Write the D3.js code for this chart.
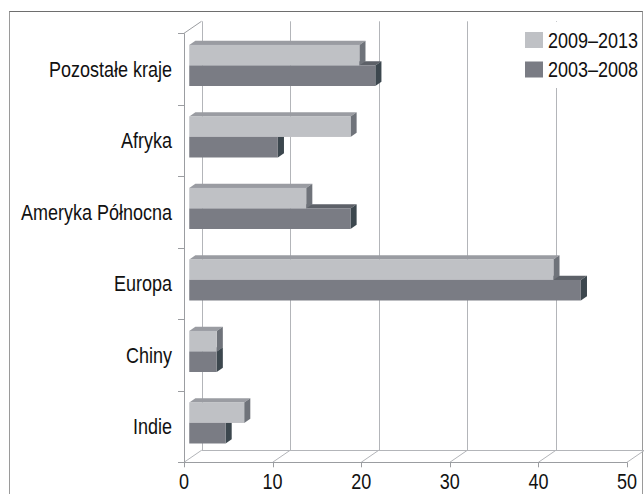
<!DOCTYPE html>
<html>
<head>
<meta charset="utf-8">
<script src="https://cdn.jsdelivr.net/npm/d3@7"></script>
<style>
  body { margin: 0; background: #fff; }
  text { font-family: "Liberation Sans", Arial, sans-serif; fill: #111; }
</style>
</head>
<body>
<svg class="chart"></svg>
<script>
// data
var categories = ["Pozostałe kraje", "Afryka", "Ameryka Północna", "Europa", "Chiny", "Indie"];
var seriesNames = ["2009–2013", "2003–2008"];
var values2009 = [19.2, 18.2, 13.2, 41.1, 3.1, 6.2];
var values2003 = [21.0, 10.0, 18.2, 44.2, 3.1, 4.1];
var xTicks = [0, 10, 20, 30, 40, 50];

var width = 644, height = 494;

var colours = {
  "2009–2013": {front: "#bfc1c5", top: "#9a9ca2", side: "#6f737a"},
  "2003–2008": {front: "#7a7c84", top: "#5d6168", side: "#3c474e"}
};

// depth vector of the 3d box (front plane -> back wall)
var depth = {x: 17.5, y: -12};
var barNear = 0.3, barFar = 0.65;

var chart = d3.select(".chart")
    .attr("width", width)
    .attr("height", height);

var xScale = d3.scaleLinear().domain([0, 50]).range([184, 627]);
var yScale = d3.scaleBand().domain(categories).range([33.3, 462.3]);
var ySub = d3.scaleBand().domain(seriesNames).range([0, yScale.bandwidth()]).paddingOuter(0.74);

var gridCol = "#b3b5b9";
var axisCol = "#9b9da1";

var yTop = yScale.range()[0], yBot = yScale.range()[1];

// outer frame
chart.append("rect")
    .attr("x", 9.5).attr("y", 11.5)
    .attr("width", 633).attr("height", 520)
    .style("fill", "#fff")
    .style("stroke", "#9a9a9a");
chart.append("line")
    .attr("x1", 9.5).attr("x2", 642.5).attr("y1", 11.5).attr("y2", 11.5)
    .style("stroke", "#6e6e6e");

// back wall grid
chart.selectAll(".grid")
    .data(xTicks)
  .enter().append("line")
    .attr("class", "grid")
    .attr("x1", function(d) { return Math.round(xScale(d) + depth.x) + 0.5; })
    .attr("x2", function(d) { return Math.round(xScale(d) + depth.x) + 0.5; })
    .attr("y1", yTop + depth.y)
    .attr("y2", yBot + depth.y)
    .style("stroke", gridCol);

// floor
chart.append("line")
    .attr("x1", xScale(0) + depth.x).attr("x2", xScale(50) + depth.x)
    .attr("y1", Math.round(yBot + depth.y) + 0.5).attr("y2", Math.round(yBot + depth.y) + 0.5)
    .style("stroke", gridCol);
chart.selectAll(".floor")
    .data(xTicks)
  .enter().append("line")
    .attr("class", "floor")
    .attr("x1", function(d) { return xScale(d); })
    .attr("x2", function(d) { return xScale(d) + depth.x; })
    .attr("y1", yBot)
    .attr("y2", yBot + depth.y)
    .style("stroke", gridCol);

// left wall top edge
chart.append("line")
    .attr("x1", xScale(0)).attr("x2", xScale(0) + depth.x)
    .attr("y1", yTop).attr("y2", yTop + depth.y)
    .style("stroke", axisCol);

// legend background
chart.append("rect")
    .attr("x", 515).attr("y", 22)
    .attr("width", 127).attr("height", 66)
    .style("fill", "#fff");

// bars
function poly(pts) {
  return pts.map(function(p) { return p[0] + "," + p[1]; }).join(" ");
}

var groups = chart.selectAll(".cat")
    .data(categories)
  .enter().append("g")
    .attr("class", "cat");

groups.each(function(cat, i) {
  var g = d3.select(this);
  var bars = [
    {name: "2003–2008", value: values2003[i]},
    {name: "2009–2013", value: values2009[i]}
  ];
  bars.forEach(function(b) {
    var c = colours[b.name];
    var x0 = xScale(0), x1 = xScale(b.value);
    var y0 = yScale(cat) + ySub(b.name), y1 = y0 + ySub.bandwidth();
    var nx = depth.x * barNear, ny = depth.y * barNear;
    var fx = depth.x * barFar, fy = depth.y * barFar;
    g.append("polygon")
        .attr("points", poly([[x0 + nx, y0 + ny], [x0 + fx, y0 + fy], [x1 + fx, y0 + fy], [x1 + nx, y0 + ny]]))
        .style("fill", c.top);
    g.append("polygon")
        .attr("points", poly([[x1 + nx, y0 + ny], [x1 + fx, y0 + fy], [x1 + fx, y1 + fy], [x1 + nx, y1 + ny]]))
        .style("fill", c.side);
    g.append("rect")
        .attr("x", x0 + nx)
        .attr("y", y0 + ny)
        .attr("width", x1 - x0)
        .attr("height", y1 - y0)
        .style("fill", c.front);
  });
});

// front axes
chart.append("line")
    .attr("x1", Math.round(xScale(0)) + 0.5).attr("x2", Math.round(xScale(0)) + 0.5)
    .attr("y1", yTop).attr("y2", yBot + 4)
    .style("stroke", axisCol);
chart.append("line")
    .attr("x1", xScale(0) - 6).attr("x2", xScale(50))
    .attr("y1", Math.round(yBot) + 0.5).attr("y2", Math.round(yBot) + 0.5)
    .style("stroke", axisCol);

var yTickPos = categories.map(function(d) { return yScale(d); }).concat([yBot]);
chart.selectAll(".ytick")
    .data(yTickPos)
  .enter().append("line")
    .attr("class", "ytick")
    .attr("x1", xScale(0) - 6).attr("x2", xScale(0))
    .attr("y1", function(d) { return Math.round(d) + 0.5; })
    .attr("y2", function(d) { return Math.round(d) + 0.5; })
    .style("stroke", axisCol);

chart.selectAll(".xtick")
    .data(xTicks)
  .enter().append("line")
    .attr("class", "xtick")
    .attr("x1", function(d) { return Math.round(xScale(d)) + 0.5; })
    .attr("x2", function(d) { return Math.round(xScale(d)) + 0.5; })
    .attr("y1", yBot).attr("y2", yBot + 5)
    .style("stroke", axisCol);

// text is slightly stretched vertically in the original
function label(x, y, anchor, str) {
  chart.append("g")
      .attr("transform", "translate(" + x + "," + y + ") scale(1,1.2)")
    .append("text")
      .attr("dy", "0.35em")
      .style("font-size", "18px")
      .style("text-anchor", anchor)
      .text(str);
}

categories.forEach(function(d) {
  label(172, yScale(d) + yScale.bandwidth() / 2, "end", d);
});

xTicks.forEach(function(d) {
  label(xScale(d), 481, "middle", d);
});

// legend
seriesNames.forEach(function(d, i) {
  var ly = 32 + i * 29.5;
  chart.append("rect")
      .attr("x", 525).attr("y", ly)
      .attr("width", 18).attr("height", 16)
      .style("fill", colours[d].front);
  label(548, ly + 8, "start", d);
});
</script>
</body>
</html>
